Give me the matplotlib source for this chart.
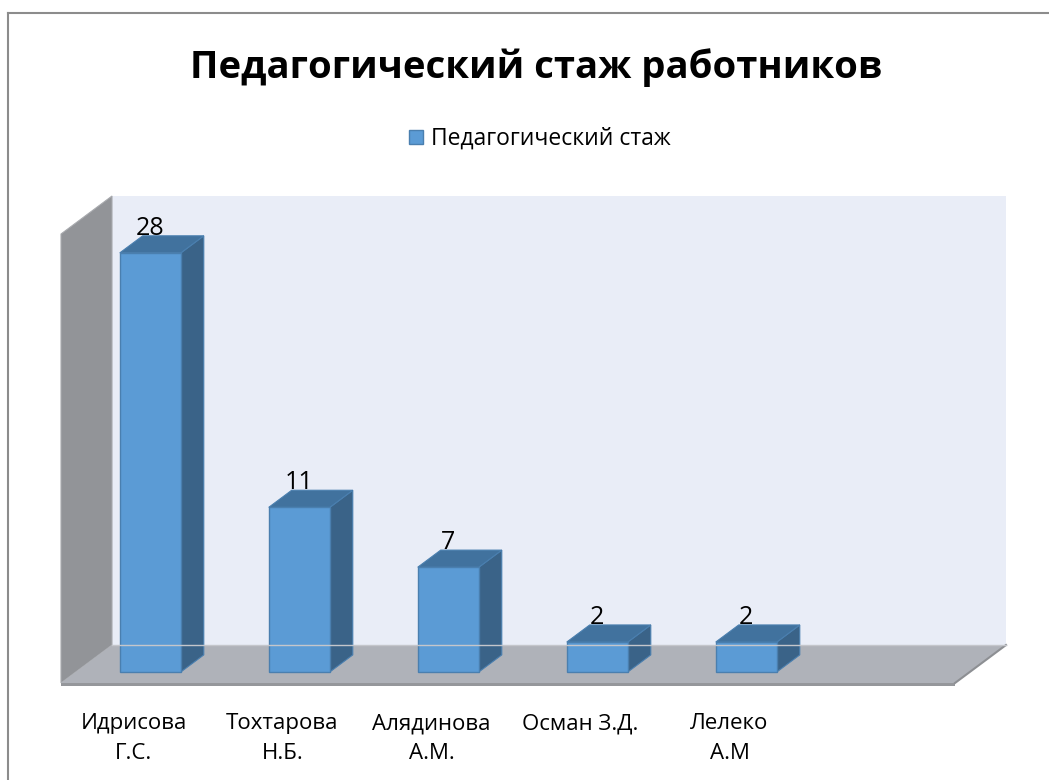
import matplotlib
matplotlib.use('Agg')
import matplotlib.pyplot as plt
from matplotlib.patches import Polygon, Rectangle, Patch
from matplotlib.lines import Line2D

# ---------------- data ----------------
categories = ['Идрисова\nГ.С.', 'Тохтарова\nН.Б.', 'Алядинова\nА.М.', 'Осман З.Д.', 'Лелеко\nА.М']
values = [28, 11, 7, 2, 2]
series_name = 'Педагогический стаж'
title = 'Педагогический стаж работников'
n_slots = 6          # the category axis has one empty slot on the right
y_max = 30

plt.rcParams['font.family'] = ['Open Sans', 'DejaVu Sans']

W, H = 1049, 780
fig = plt.figure(figsize=(W / 100, H / 100), dpi=100)
fig.patch.set_facecolor('white')

# axes = back wall plane of the 3D chart
ax = fig.add_axes([112 / W, (H - 645) / H, (1006 - 112) / W, 449 / H])
ax.set_xlim(-0.5, n_slots - 0.5)
ax.set_ylim(0, y_max)
ax.axis('off')

# oblique depth (pixels) converted to data units through the axes scale
(x0, y0), (x1, y1) = ax.transData.transform([(0, 0), (1, 1)])
px_x, px_y = x1 - x0, y1 - y0
DX = 51 / px_x
DY = 38 / px_y


def P(x, y, t):
    """point at depth t (0 = back wall, 1 = front edge of floor)"""
    return (x - t * DX, y - t * DY)


kw = dict(transform=ax.transData, clip_on=False)
xl, xr = -0.5, n_slots - 0.5

# back wall
ax.add_patch(Rectangle((xl, 0), n_slots, y_max, facecolor='#E9EDF7', edgecolor='none', **kw))
# left side wall
ax.add_patch(Polygon([P(xl, 0, 0), P(xl, y_max, 0), P(xl, y_max, 1), P(xl, 0, 1)],
                     closed=True, facecolor='#929498', edgecolor='#A8AAAE', lw=0.8, **kw))
# floor
ax.add_patch(Polygon([P(xl, 0, 0), P(xr, 0, 0), P(xr, 0, 1), P(xl, 0, 1)],
                     closed=True, facecolor='#AFB2B9', edgecolor='none', **kw))
th = 2.5 / px_y
ax.add_patch(Polygon([P(xl, 0, 1), P(xr, 0, 1), P(xr, -th, 1), P(xl, -th, 1)],
                     closed=True, facecolor='#95979B', edgecolor='none', **kw))
ax.add_line(Line2D(*zip(P(xr, 0, 0), P(xr, 0, 1)), color='#8D8F93', lw=1.5, **kw))
ax.add_line(Line2D(*zip(P(xl, 0, 0), P(xr, 0, 0)), color='#C4C6CB', lw=1.0, **kw))

# bars
w = 0.41
tf, tb = 0.71, 0.26
c_front, c_top, c_side, c_edge = '#5B9BD5', '#41729E', '#3A6388', '#4A7FAF'
for i, v in enumerate(values):
    a, b = i - w / 2, i + w / 2
    ax.add_patch(Polygon([P(b, 0, tf), P(b, v, tf), P(b, v, tb), P(b, 0, tb)],
                         closed=True, facecolor=c_side, edgecolor=c_edge, lw=0.8, **kw))
    ax.add_patch(Polygon([P(a, v, tf), P(b, v, tf), P(b, v, tb), P(a, v, tb)],
                         closed=True, facecolor=c_top, edgecolor=c_edge, lw=0.8, **kw))
    ax.add_patch(Polygon([P(a, 0, tf), P(b, 0, tf), P(b, v, tf), P(a, v, tf)],
                         closed=True, facecolor=c_front, edgecolor=c_edge, lw=1.0, **kw))
    lx, _ = P(i, v, tf)
    _, ly = P(i, v, tb)
    ax.annotate(str(v), xy=(lx, ly), xytext=(0, 1), textcoords='offset pixels',
                ha='center', va='baseline', fontsize=18, color='black', annotation_clip=False)

# category labels
for i, cat in enumerate(categories):
    cx, cy = P(i, 0, 1)
    ax.annotate(cat, xy=(cx, cy), xytext=(-2, -30), textcoords='offset pixels',
                ha='center', va='top', fontsize=16, linespacing=1.55, color='black',
                annotation_clip=False)

# title
fig.text(536 / W, 1 - 78 / H, title, ha='center', va='baseline',
         fontsize=27.5, fontweight='bold', color='black')

# legend
handle = Patch(facecolor=c_front, edgecolor='#4A7FAF', lw=1.0)
fig.legend([handle], [series_name], loc='center', bbox_to_anchor=(540 / W, 1 - 139 / H),
           frameon=False, fontsize=16.5, handlelength=0.62, handleheight=0.62,
           handletextpad=0.35, borderpad=0, borderaxespad=0)

# outer frame (top and left visible)
fig.add_artist(Line2D([8 / W, 1], [1 - 13 / H, 1 - 13 / H], transform=fig.transFigure,
                      color='#8C8C8C', lw=1.5))
fig.add_artist(Line2D([8 / W, 8 / W], [0, 1 - 13 / H], transform=fig.transFigure,
                      color='#8C8C8C', lw=1.5))

fig.savefig('out.png', dpi=100, facecolor='white')
